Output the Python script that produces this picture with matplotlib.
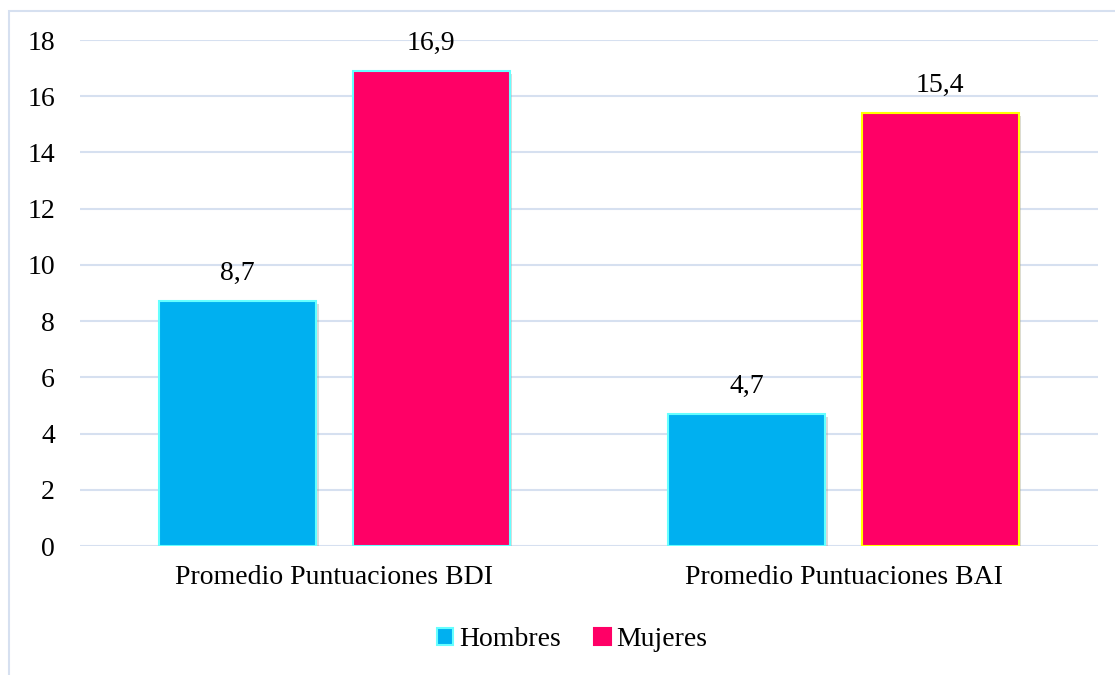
import numpy as np
import matplotlib
matplotlib.use("Agg")
import matplotlib.pyplot as plt
import matplotlib.patheffects as pe
from matplotlib.patches import Rectangle, Patch

categorias = ['Promedio Puntuaciones BDI', 'Promedio Puntuaciones BAI']
hombres = [8.7, 4.7]
mujeres = [16.9, 15.4]
series = ['Hombres', 'Mujeres']

plt.rcParams['font.family'] = ['Liberation Serif', 'DejaVu Serif']
fs = 20

fig = plt.figure(figsize=(11.15, 6.75), dpi=100)
ax = fig.add_axes([0.0717, 0.1911, 0.9131, 0.7496])

x = np.arange(len(categorias))
ancho = 0.308
desp = 0.19
sombra = [pe.SimplePatchShadow(offset=(2, -2), shadow_rgbFace='#999999', alpha=0.35), pe.Normal()]

b1 = ax.bar(x - desp, hombres, ancho, color='#00B0F0', edgecolor='#66FFFF',
            linewidth=1.5, zorder=3)
b2 = ax.bar(x + desp, mujeres, ancho, color='#FF0066', edgecolor=['#66FFFF', '#FFFF00'],
            linewidth=1.5, zorder=3)
for b in list(b1) + list(b2):
    b.set_path_effects(sombra)

for barras, vals in [(b1, hombres), (b2, mujeres)]:
    for b, v in zip(barras, vals):
        ax.text(b.get_x() + b.get_width() / 2, v + 0.55, ('%.1f' % v).replace('.', ','),
                ha='center', va='bottom', fontsize=fs)

ax.set_xlim(-0.5, 1.5)
ax.set_ylim(0, 18)
ax.set_yticks(range(0, 19, 2))
ax.set_xticks(x)
ax.set_xticklabels(categorias, fontsize=fs)
ax.tick_params(axis='y', labelsize=fs, length=0, pad=18)
ax.tick_params(axis='x', length=0, pad=14)
ax.grid(axis='y', color='#D6E0F0', linewidth=1.5, zorder=0)
ax.set_axisbelow(True)
for s in ax.spines.values():
    s.set_visible(False)

handles = [Patch(facecolor='#00B0F0', edgecolor='#66FFFF', linewidth=1.5, label=series[0]),
           Patch(facecolor='#FF0066', edgecolor='#FF0066', linewidth=1.5, label=series[1])]
fig.legend(handles=handles, loc='center', bbox_to_anchor=(0.513, 0.052), ncol=2, frameon=False,
           fontsize=fs, handlelength=0.6, handleheight=0.6, handletextpad=0.2,
           columnspacing=1.2)

fig.patches.append(Rectangle((9 / 1115, -0.1), 1.2, 1.1 - 11 / 675, transform=fig.transFigure,
                             fill=False, edgecolor='#D6E0F0', linewidth=1.5))

fig.savefig('out.png', dpi=100)
